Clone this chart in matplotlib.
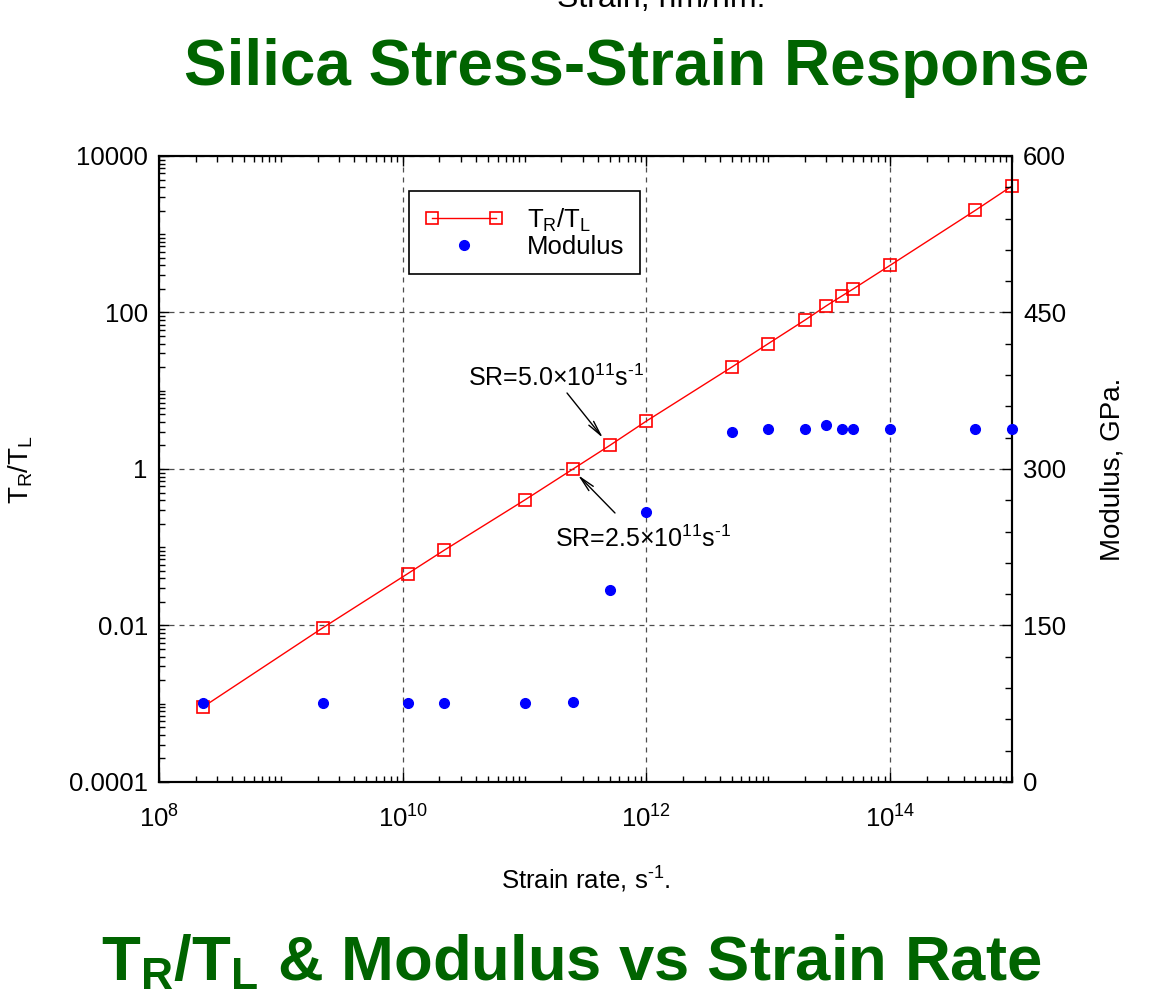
import numpy as np
import matplotlib
matplotlib.use("Agg")
import matplotlib.pyplot as plt
from matplotlib.lines import Line2D
from matplotlib.legend_handler import HandlerLine2D
from matplotlib.ticker import FixedLocator, LogLocator, LogFormatterMathtext, MultipleLocator, NullFormatter

plt.rcParams['font.family'] = ['Liberation Sans', 'DejaVu Sans']
plt.rcParams['mathtext.fontset'] = 'custom'
plt.rcParams['mathtext.rm'] = 'Liberation Sans'
plt.rcParams['mathtext.it'] = 'Liberation Sans:italic'
plt.rcParams['mathtext.bf'] = 'Liberation Sans:bold'

# Strain rate (1/s)
strain_rate = [2.3e8, 2.2e9, 1.1e10, 2.2e10, 1.0e11, 2.5e11, 5.0e11, 1.0e12,
               5.0e12, 1.0e13, 2.0e13, 3.0e13, 4.0e13, 5.0e13, 1.0e14, 5.0e14, 1.0e15]
# Ratio of rise time to loading time
tr_tl = [0.00091, 0.0093, 0.046, 0.092, 0.40, 1.0, 2.0, 4.1,
         20.0, 40.0, 80.0, 122.0, 162.0, 201.0, 401.0, 2020.0, 4140.0]
# Effective modulus (GPa)
modulus = [76, 76, 76, 76, 76, 77, 184, 259,
           335, 338, 338, 342, 338, 338, 338, 338, 338]

y_major = [1e-4, 1e-2, 1, 1e2, 1e4]
y_major_labels = ['0.0001', '0.01', '1', '100', '10000']
x_major = [1e8, 1e10, 1e12, 1e14]
mod_major = [0, 150, 300, 450, 600]

green = '#006400'
fs = 18.5
HY = '\u2010'  # plain hyphen for superscript exponents

fig = plt.figure(figsize=(11.52, 9.91), dpi=100)
ax = fig.add_axes([0.138, 0.2109, 0.7405, 0.6317])
ax2 = ax.twinx()

ax.set_xscale('log')
ax.set_yscale('log')
ax.set_xlim(1e8, 1e15)
ax.set_ylim(1e-4, 1e4)
ax2.set_ylim(0, 600)

ax.xaxis.set_major_locator(FixedLocator(x_major))
ax.xaxis.set_major_formatter(LogFormatterMathtext())
ax.xaxis.set_minor_locator(LogLocator(base=10, subs=np.arange(1, 10), numticks=100))
ax.xaxis.set_minor_formatter(NullFormatter())
ax.yaxis.set_major_locator(FixedLocator(y_major))
ax.set_yticklabels(y_major_labels)
ax.yaxis.set_minor_locator(LogLocator(base=10, subs=np.arange(1, 10), numticks=100))
ax.yaxis.set_minor_formatter(NullFormatter())
ax2.yaxis.set_major_locator(FixedLocator(mod_major))
ax2.yaxis.set_minor_locator(MultipleLocator(30))

ax.grid(True, which='major', color='0.3', linestyle=(0, (4, 4)), linewidth=0.9)

for a in (ax, ax2):
    for s in a.spines.values():
        s.set_linewidth(1.5)
ax.tick_params(which='both', direction='in', top=True, right=False, labelsize=fs, width=1.0)
ax.tick_params(which='major', length=7)
ax.tick_params(which='minor', length=4)
ax.tick_params(axis='x', which='major', pad=17)
ax.tick_params(axis='y', which='major', pad=8)
ax2.tick_params(which='both', direction='in', labelsize=fs, width=1.0, pad=8)
ax2.tick_params(which='major', length=7)
ax2.tick_params(which='minor', length=5)

ax.plot(strain_rate, tr_tl, color='red', linewidth=1.0, marker='s', markersize=8,
        markerfacecolor='none', markeredgecolor='red', markeredgewidth=1.2, zorder=5,
        clip_on=False)
ax2.plot(strain_rate, modulus, linestyle='none', marker='o', markersize=7,
         color='blue', zorder=6, clip_on=False)
ax2.set_zorder(ax.get_zorder() + 1)
ax2.patch.set_visible(False)

ax.set_xlabel('Strain rate, s$^{' + HY + '1}$.', fontsize=fs)
ax.xaxis.set_label_coords(0.5, -0.132)
ax.set_ylabel('T$_\\mathregular{R}$/T$_\\mathregular{L}$', fontsize=20)
ax.yaxis.set_label_coords(-0.145, 0.5)
ax2.set_ylabel('Modulus, GPa.', fontsize=20)
ax2.yaxis.set_label_coords(1.103, 0.5)

# strain-rate call-outs with open arrow heads
arrow = dict(arrowstyle='->,head_length=1.1,head_width=0.22', color='black', lw=1.0,
             shrinkA=0, shrinkB=0)
ax.annotate('', xy=(4.4e11, 2.49), xytext=(2.23e11, 9.36), arrowprops=arrow)
ax.annotate('', xy=(2.74e11, 0.838), xytext=(5.52e11, 0.274), arrowprops=arrow)
ax.text(1.81e11, 11.5, 'SR=5.0\u00d710$^{11}$s$^{' + HY + '1}$', fontsize=18,
        ha='center', va='baseline')
ax.text(9.4e11, 0.1007, 'SR=2.5\u00d710$^{11}$s$^{' + HY + '1}$', fontsize=18,
        ha='center', va='baseline')

h_ratio = Line2D([], [], color='red', linewidth=1.0, marker='s', markersize=8,
                 markerfacecolor='none', markeredgecolor='red', markeredgewidth=1.2)
h_mod = Line2D([], [], linestyle='none', marker='o', markersize=7, color='blue')
leg = ax.legend([h_ratio, h_mod], ['T$_\\mathregular{R}$/T$_\\mathregular{L}$', 'Modulus'],
                handler_map={h_ratio: HandlerLine2D(numpoints=2),
                             h_mod: HandlerLine2D(numpoints=1)},
                loc='upper left', bbox_to_anchor=(0.293, 0.944), borderaxespad=0,
                fontsize=fs, fancybox=False, edgecolor='black', framealpha=1,
                handlelength=3.1, labelspacing=0.05, borderpad=0.6, handletextpad=0.9)
leg.get_frame().set_linewidth(1.2)
leg.set_zorder(10)

fig.text(0.574, 0.993, 'Strain, nm/nm.', fontsize=23, ha='center', va='baseline')
fig.text(0.5525, 0.914, 'Silica Stress-Strain Response', fontsize=46, fontweight='bold',
         color=green, ha='center', va='baseline')
fig.text(0.496, 0.011, '$\\mathbf{T_R/T_L}$ & Modulus vs Strain Rate', fontsize=45.6,
         fontweight='bold', color=green, ha='center', va='baseline')

fig.savefig('out.png', dpi=100)
